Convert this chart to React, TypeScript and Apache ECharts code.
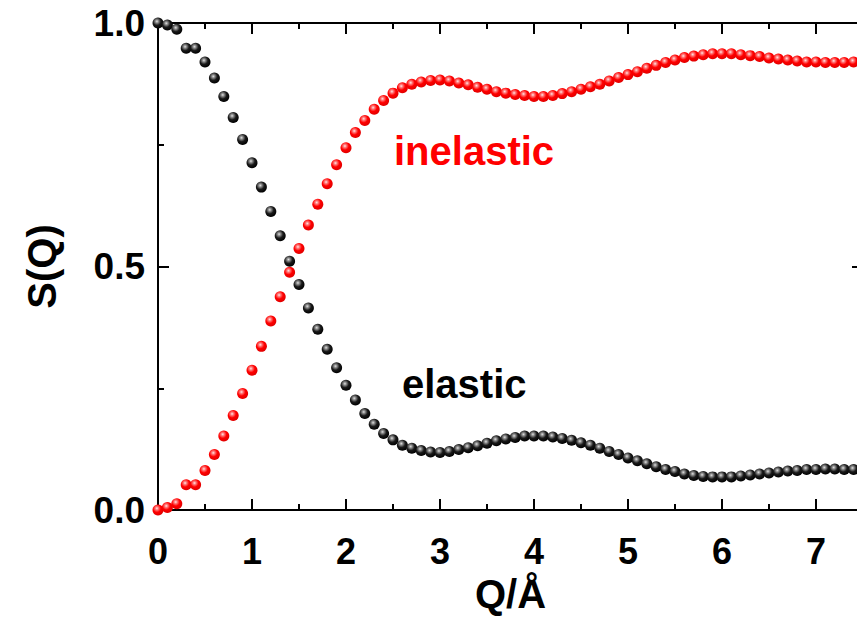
import React, { useEffect, useRef } from "react";
import * as echarts from "echarts";

const qValues = [
  0.0, 0.1, 0.2, 0.3, 0.4, 0.5, 0.6, 0.7, 0.8, 0.9,
  1.0, 1.1, 1.2, 1.3, 1.4, 1.5, 1.6, 1.7, 1.8, 1.9,
  2.0, 2.1, 2.2, 2.3, 2.4, 2.5, 2.6, 2.7, 2.8, 2.9,
  3.0, 3.1, 3.2, 3.3, 3.4, 3.5, 3.6, 3.7, 3.8, 3.9,
  4.0, 4.1, 4.2, 4.3, 4.4, 4.5, 4.6, 4.7, 4.8, 4.9,
  5.0, 5.1, 5.2, 5.3, 5.4, 5.5, 5.6, 5.7, 5.8, 5.9,
  6.0, 6.1, 6.2, 6.3, 6.4, 6.5, 6.6, 6.7, 6.8, 6.9,
  7.0, 7.1, 7.2, 7.3, 7.4,
];

const elastic = [
  1.0, 0.996, 0.987, 0.948, 0.948, 0.92, 0.887, 0.849, 0.806, 0.761,
  0.713, 0.663, 0.613, 0.563, 0.511, 0.463, 0.415, 0.371, 0.33, 0.292,
  0.256, 0.226, 0.198, 0.176, 0.157, 0.144, 0.133, 0.127, 0.122, 0.119,
  0.118, 0.12, 0.124, 0.128, 0.132, 0.137, 0.142, 0.146, 0.149, 0.152,
  0.152, 0.152, 0.15, 0.147, 0.143, 0.138, 0.133, 0.127, 0.12, 0.114,
  0.107, 0.101, 0.095, 0.089, 0.083, 0.079, 0.074, 0.071, 0.069, 0.068,
  0.068, 0.068, 0.07, 0.072, 0.074, 0.076, 0.078, 0.08, 0.081, 0.083,
  0.083, 0.084, 0.084, 0.083, 0.083,
];

const inelastic = [
  0.0, 0.005, 0.013, 0.052, 0.052, 0.081, 0.114, 0.152, 0.194, 0.239,
  0.287, 0.336, 0.388, 0.438, 0.488, 0.537, 0.585, 0.628, 0.67, 0.709,
  0.744, 0.775, 0.8, 0.823, 0.841, 0.856, 0.867, 0.874, 0.879, 0.882,
  0.883, 0.881, 0.877, 0.873, 0.868, 0.864, 0.859, 0.856, 0.853, 0.851,
  0.849, 0.849, 0.851, 0.855, 0.859, 0.864, 0.869, 0.874, 0.881, 0.888,
  0.894, 0.9, 0.907, 0.913, 0.919, 0.924, 0.929, 0.932, 0.935, 0.937,
  0.937, 0.937, 0.935, 0.933, 0.931, 0.928, 0.926, 0.924, 0.922, 0.92,
  0.92, 0.919, 0.919, 0.919, 0.92,
];

const seriesNames = ["elastic", "inelastic"];
const xTickLabels = ["0", "1", "2", "3", "4", "5", "6", "7"];
const yTickLabels = ["0.0", "0.5", "1.0"];

const FONT = '"Liberation Sans", Arial, Helvetica, sans-serif';

const blackBall = {
  type: "radial",
  x: 0.4,
  y: 0.35,
  r: 0.65,
  colorStops: [
    { offset: 0, color: "#e0e0e0" },
    { offset: 0.22, color: "#8a8a8a" },
    { offset: 0.55, color: "#1a1a1a" },
    { offset: 1, color: "#000000" },
  ],
};

const redBall = {
  type: "radial",
  x: 0.4,
  y: 0.35,
  r: 0.65,
  colorStops: [
    { offset: 0, color: "#ffe6e6" },
    { offset: 0.22, color: "#ff7a7a" },
    { offset: 0.55, color: "#ff0000" },
    { offset: 1, color: "#e00000" },
  ],
};

function axisLine() {
  return { show: true, onZero: false, lineStyle: { color: "#000", width: 2 } };
}
function axisTick() {
  return { show: true, inside: true, length: 11, lineStyle: { color: "#000", width: 2 } };
}
function minorTick() {
  return { show: true, splitNumber: 2, length: 6, lineStyle: { color: "#000", width: 2 } };
}

export default function App() {
  const ref = useRef<HTMLDivElement>(null);

  useEffect(() => {
    if (!ref.current) return;
    const chart = echarts.init(ref.current, undefined, { renderer: "svg" });

    const option: any = {
      animation: false,
      backgroundColor: "#ffffff",
      grid: {
        left: 158,
        top: 23,
        right: -6,
        bottom: 107,
        containLabel: false,
        outerBoundsMode: "none",
        show: true,
        borderColor: "#000",
        borderWidth: 2,
        backgroundColor: "transparent",
      },
      xAxis: [
        {
          type: "value",
          gridIndex: 0,
          min: 0,
          max: 7.5,
          interval: 1,
          position: "bottom",
          axisLine: axisLine(),
          axisTick: axisTick(),
          minorTick: minorTick(),
          splitLine: { show: false },
          axisLabel: {
            show: true,
            margin: 23,
            showMaxLabel: false,
            fontSize: 36,
            fontWeight: "bold",
            fontFamily: FONT,
            color: "#000",
            formatter: (v: number) => (Number.isInteger(v) ? xTickLabels[v] ?? "" : ""),
          },
          name: "Q/Å",
          nameLocation: "middle",
          nameGap: 62,
          nameTextStyle: { fontSize: 40, fontWeight: "bold", fontFamily: FONT, color: "#000" },
        },
        {
          type: "value",
          gridIndex: 0,
          show: true,
          min: 0,
          max: 7.5,
          interval: 1,
          position: "top",
          axisLine: axisLine(),
          axisTick: axisTick(),
          minorTick: minorTick(),
          splitLine: { show: false },
          axisLabel: { show: false },
        },
      ],
      yAxis: [
        {
          type: "value",
          gridIndex: 0,
          min: 0,
          max: 1,
          interval: 0.5,
          position: "left",
          axisLine: axisLine(),
          axisTick: axisTick(),
          minorTick: minorTick(),
          splitLine: { show: false },
          axisLabel: {
            show: true,
            margin: 13,
            fontSize: 37,
            fontWeight: "bold",
            fontFamily: FONT,
            color: "#000",
            formatter: (v: number) => yTickLabels[Math.round(v * 2)] ?? "",
          },
          name: "S(Q)",
          nameLocation: "middle",
          nameRotate: 90,
          nameGap: 96,
          nameTextStyle: { fontSize: 40, fontWeight: "bold", fontFamily: FONT, color: "#000" },
        },
        {
          type: "value",
          gridIndex: 0,
          show: true,
          min: 0,
          max: 1,
          interval: 0.5,
          position: "right",
          axisLine: axisLine(),
          axisTick: axisTick(),
          minorTick: minorTick(),
          splitLine: { show: false },
          axisLabel: { show: false },
        },
      ],
      series: [
        {
          name: seriesNames[0],
          type: "scatter",
          xAxisIndex: 0,
          yAxisIndex: 0,
          symbol: "circle",
          symbolSize: 11,
          clip: false,
          itemStyle: { color: blackBall, opacity: 1 },
          data: qValues.map((q, i) => [q, elastic[i]]),
          z: 3,
        },
        {
          name: seriesNames[1],
          type: "scatter",
          xAxisIndex: 1,
          yAxisIndex: 1,
          symbol: "circle",
          symbolSize: 11,
          clip: false,
          itemStyle: { color: redBall, opacity: 1 },
          data: qValues.map((q, i) => [q, inelastic[i]]),
          z: 4,
        },
      ],
      graphic: [
        {
          type: "text",
          left: 394,
          top: 131,
          style: {
            text: "inelastic",
            font: `bold 40px ${FONT}`,
            fill: "#ff0000",
          },
        },
        {
          type: "text",
          left: 402,
          top: 364,
          style: {
            text: "elastic",
            font: `bold 40px ${FONT}`,
            fill: "#000000",
          },
        },
      ],
    };

    chart.setOption(option);
    return () => chart.dispose();
  }, []);

  return (
    <div
      ref={ref}
      style={{ position: "fixed", left: 0, top: 0, width: 857, height: 617, background: "#fff" }}
    />
  );
}
